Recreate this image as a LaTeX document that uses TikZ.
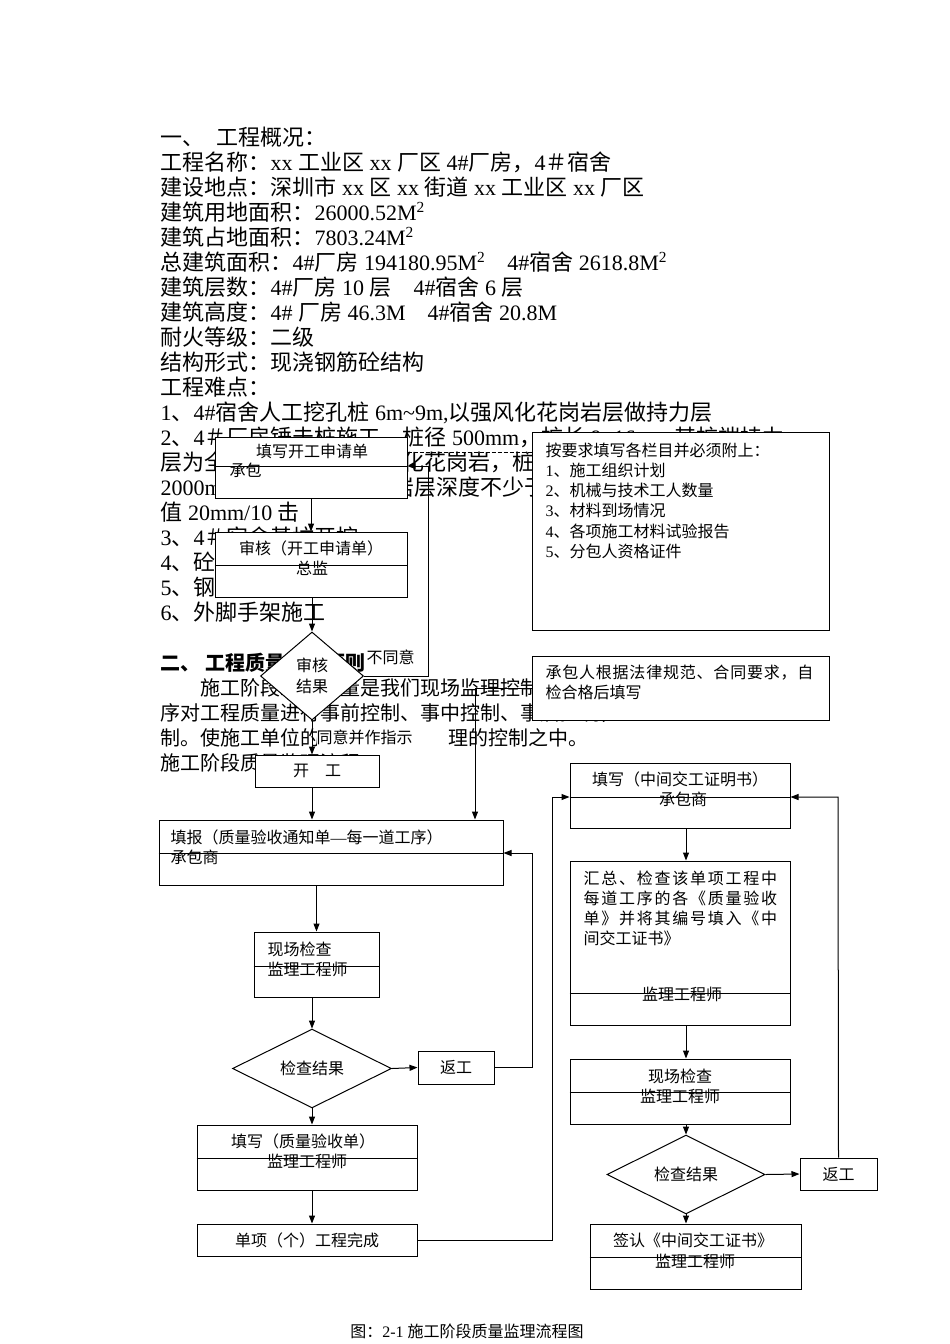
\documentclass[tikz,border=0pt]{standalone}
\usepackage{fontspec}
\setmainfont{Liberation Serif}
\newfontfamily\cjk{Noto Sans CJK SC}
\usetikzlibrary{positioning,shapes.geometric,arrows.meta}
% Chinese characters are set in the CJK family, everything else in the serif
\makeatletter
\def\cjkrange#1#2{\count@=#1 \loop\XeTeXcharclass\count@=7 \ifnum\count@<#2 \advance\count@\@ne\repeat}
\cjkrange{"3000}{"303F}
\cjkrange{"4E00}{"9FFF}
\cjkrange{"FF00}{"FFEF}
\makeatother
\XeTeXinterchartokenstate=1
\XeTeXinterchartoks 0 7 = {\cjk}
\XeTeXinterchartoks 4095 7 = {\cjk}
\XeTeXinterchartoks 7 0 = {\rmfamily}
\XeTeXinterchartoks 7 4095 = {\rmfamily}
\newcommand\cjkspaced[2]{{\XeTeXinterchartokenstate=0 \cjk\addfontfeatures{LetterSpace=#1}#2}}

\begin{document}
\begin{tikzpicture}[x=1pt, y=-1pt, line width=1pt, >={Triangle[length=8pt,width=6pt]},
    bodytext/.style={anchor=base west, inner sep=0pt, font=\fontsize{22}{25}\selectfont},
    paratext/.style={anchor=base west, inner sep=0pt, font=\fontsize{20}{25}\selectfont},
    flowbox/.style={draw, fill=white, inner sep=0pt},
    decision/.style={diamond, draw, fill=white, inner sep=0pt, align=center, font=\fontsize{16}{21}\selectfont},
    lbl/.style={inner sep=0pt, font=\fontsize{16}{20}\selectfont}]

    \fill[white] (0,0) rectangle (950,1344);
    \useasboundingbox (0,0) rectangle (950,1344);

    % text of the page
    \foreach \txt [count=\i] in {
        {一、\hspace{12pt}工程概况：},
        {工程名称：xx 工业区 xx 厂区 4\#厂房，4＃宿舍},
        {建设地点：深圳市 xx 区 xx 街道 xx 工业区 xx 厂区},
        {建筑用地面积：26000.52M\textsuperscript{2}},
        {建筑占地面积：7803.24M\textsuperscript{2}},
        {总建筑面积：4\#厂房 194180.95M\textsuperscript{2}\hspace{22pt}4\#宿舍 2618.8M\textsuperscript{2}},
        {建筑层数：4\#厂房 10 层\hspace{22pt}4\#宿舍 6 层},
        {建筑高度：4\# 厂房 46.3M\hspace{22pt}4\#宿舍 20.8M},
        {耐火等级：二级},
        {结构形式：现浇钢筋砼结构},
        {工程难点：},
        {1、4\#宿舍人工挖孔桩 6m\textasciitilde 9m,以强风化花岗岩层做持力层},
        {2、4＃厂房锤击桩施工，桩径 500mm，桩长 9\textasciitilde 16m，其桩端持力},
        {层为全风化花岗岩或强风化花岗岩，桩长以贯入度控制，},
        {2000mm，桩端进入风化岩层深度不少于 1m，最后贯入度},
        {值 20mm/10 击},
        {3、4＃宿舍基坑开挖},
        {4、砼结构施工},
        {5、钢结构安装},
        {6、外脚手架施工}}
        \node[bodytext] (line\i) at (160,120+25*\i) {\txt};

    \node[paratext, font={\fontsize{20}{25}\selectfont\bfseries}] (head) at (160,670) {二、 工程质量监理原则};
    \node[paratext] (para1) at (160,695) {　　施工阶段工程质量是我们现场监理控制的重点，};
    \node[paratext] (para2) at (160,720) {序对工程质量进行事前控制、事中控制、事后控制，};
    \node[paratext] (para3) at (160,745) {制。使施工单位的全过程处于监\hspace{8pt}理的控制之中。};
    \node[paratext] (para4) at (160,770) {施工阶段质量监理流程};

    % left column
    \node[flowbox, minimum width=192pt, minimum height=61pt] (apply) at (311,467.5) {};
    \node[lbl] (applyt) at (312,451) {填写开工申请单};
    \node[lbl, anchor=west] (applyb) at (229,470) {承包};
    \draw (apply.west |- 0,466) -- (apply.east |- 0,466);

    \node[flowbox, minimum width=192pt, minimum height=65pt] (review) at (311,564.5) {};
    \node[lbl] (reviewt) at (311,548) {审核（开工申请单）};
    \node[lbl] (reviewb) at (312,568) {总监};
    \draw (review.west |- 0,565) -- (review.east |- 0,565);

    \node[decision, minimum width=103pt, minimum height=88pt] (d1) at (312,676) {审核\\结果};

    \node[flowbox, minimum width=124pt, minimum height=32pt, font=\fontsize{16}{20}\selectfont] (start) at (317,771) {开　工};

    \node[flowbox, minimum width=344pt, minimum height=65pt] (fill) at (331,852.5) {};
    \node[lbl, anchor=west] (fillt) at (170,837) {填报（质量验收通知单—每一道工序）};
    \node[lbl, anchor=west] (fillb) at (170,857) {承包商};
    \draw (fill.west |- 0,853) -- (fill.east |- 0,853);

    \node[flowbox, minimum width=125pt, minimum height=65pt] (check) at (316.5,964.5) {};
    \node[lbl, anchor=west] (checkt) at (267,949) {现场检查};
    \node[lbl, anchor=west] (checkb) at (267,969) {监理工程师};
    \draw (check.west |- 0,966) -- (check.east |- 0,966);

    \node[decision, minimum width=159pt, minimum height=50pt] (d2) at (312,1068.5) {检查结果};
    \node[flowbox, minimum width=76pt, minimum height=33pt, font=\fontsize{16}{20}\selectfont] (redo) at (456,1067.5) {返工};

    \node[flowbox, minimum width=220pt, minimum height=65pt] (accept) at (307,1157.5) {};
    \node[lbl] (acceptt) at (303,1141) {填写（质量验收单）};
    \node[lbl] (acceptb) at (307,1161) {监理工程师};
    \draw (accept.west |- 0,1158) -- (accept.east |- 0,1158);

    \node[flowbox, minimum width=220pt, minimum height=32pt, font=\fontsize{16}{20}\selectfont] (done) at (307,1240) {单项（个）工程完成};

    % notes
    \node[flowbox, minimum width=297pt, minimum height=198pt] (note1) at (680.5,531) {};
    \node[lbl, anchor=north west, align=left, font=\fontsize{16}{20.3}\selectfont] (note1t) at (545,442)
        {按要求填写各栏目并必须附上：\\1、施工组织计划\\2、机械与技术工人数量\\3、材料到场情况\\4、各项施工材料试验报告\\5、分包人资格证件};

    \node[flowbox, minimum width=297pt, minimum height=64pt] (note2) at (680.5,688) {};
    \node[lbl, anchor=north west, align=left] (note2t) at (545,664)
        {\cjkspaced{5}{承包人根据法律规范、合同要求，自}\\检合格后填写};

    % right column
    \node[flowbox, minimum width=220pt, minimum height=65pt] (cert) at (680,795.5) {};
    \node[lbl] (certt) at (680,779) {填写（中间交工证明书）};
    \node[lbl] (certb) at (683,799) {承包商};
    \draw (cert.west |- 0,797) -- (cert.east |- 0,797);

    \node[flowbox, minimum width=220pt, minimum height=164pt] (sum) at (680,943) {};
    \node[lbl, anchor=north west, align=left] (sumt) at (583,870)
        {\cjkspaced{11}{汇总、检查该单项工程中}\\\cjkspaced{11}{每道工序的各《质量验收}\\\cjkspaced{11}{单》并将其编号填入《中}\\间交工证书》};
    \node[lbl] (sumb) at (682,994) {监理工程师};
    \draw (sum.west |- 0,993) -- (sum.east |- 0,993);

    \node[flowbox, minimum width=220pt, minimum height=65pt] (recheck) at (680,1091.5) {};
    \node[lbl] (recheckt) at (680,1076) {现场检查};
    \node[lbl] (recheckb) at (680,1096) {监理工程师};
    \draw (recheck.west |- 0,1092) -- (recheck.east |- 0,1092);

    \node[decision, minimum width=158pt, minimum height=49pt] (d3) at (686,1174.5) {检查结果};
    \node[flowbox, minimum width=77pt, minimum height=32pt, font=\fontsize{16}{20}\selectfont] (redo2) at (838.5,1174) {返工};

    \node[flowbox, minimum width=211pt, minimum height=65pt] (sign) at (695.5,1256.5) {};
    \node[lbl] (signt) at (693,1240) {签认《中间交工证书》};
    \node[lbl] (signb) at (695,1261) {监理工程师};
    \draw (sign.west |- 0,1257) -- (sign.east |- 0,1257);

    % connectors
    \coordinate (nobend) at (428,466);
    \coordinate (n2turn) at (475,688);
    \coordinate (back1) at (532,853);
    \coordinate (up) at (552,797);
    \coordinate (back2) at (838,797);

    \draw[->] (apply) -- (review);
    \draw[->] (review.south -| d1) -- (d1.north);
    \draw[->] (d1.south) -- (d1.south |- start.north);
    \draw[->] (d1.east) -| (nobend) -- (apply.east |- nobend);
    \draw[dashed, dash pattern=on 4pt off 2pt] (apply.east |- 0,452) -- (note1.west |- 0,452);
    \draw[->] (start.south -| d1) -- (d1 |- fill.north);
    \draw[->] (note2.west) -- (n2turn) -- (n2turn |- fill.north);
    \draw[->] (fill.south -| check) -- (check.north);
    \draw[->] (check.south -| d2) -- (d2.north);
    \draw[->] (d2.east) -- (redo.west);
    \draw[->] (redo.east) -| (back1) -- (fill.east |- back1);
    \draw[->] (d2.south) -- (d2.south |- accept.north);
    \draw[->] (accept.south -| d2) -- (d2 |- done.north);
    \draw[->] (done.east) -| (up) -- (cert.west |- up);
    \draw[->] (cert.south -| d3) -- (d3 |- sum.north);
    \draw[->] (sum.south -| d3) -- (d3 |- recheck.north);
    \draw[->] (recheck.south -| d3) -- (d3.north);
    \draw[->] (d3.east) -- (redo2.west);
    \draw[->] (d3.south) -- (d3.south |- sign.north);
    \draw[->] (redo2.north) -- (back2) -- (cert.east |- back2);

    % labels
    \node[lbl, anchor=west] (disagree) at (366,657) {不同意};
    \node[lbl, anchor=west, fill=white, text width=128pt, align=left, minimum height=22pt] (agree) at (316,737) {同意并作指示};
    \node[lbl] (caption) at (467,1331) {图：2-1 施工阶段质量监理流程图};
\end{tikzpicture}
\end{document}
